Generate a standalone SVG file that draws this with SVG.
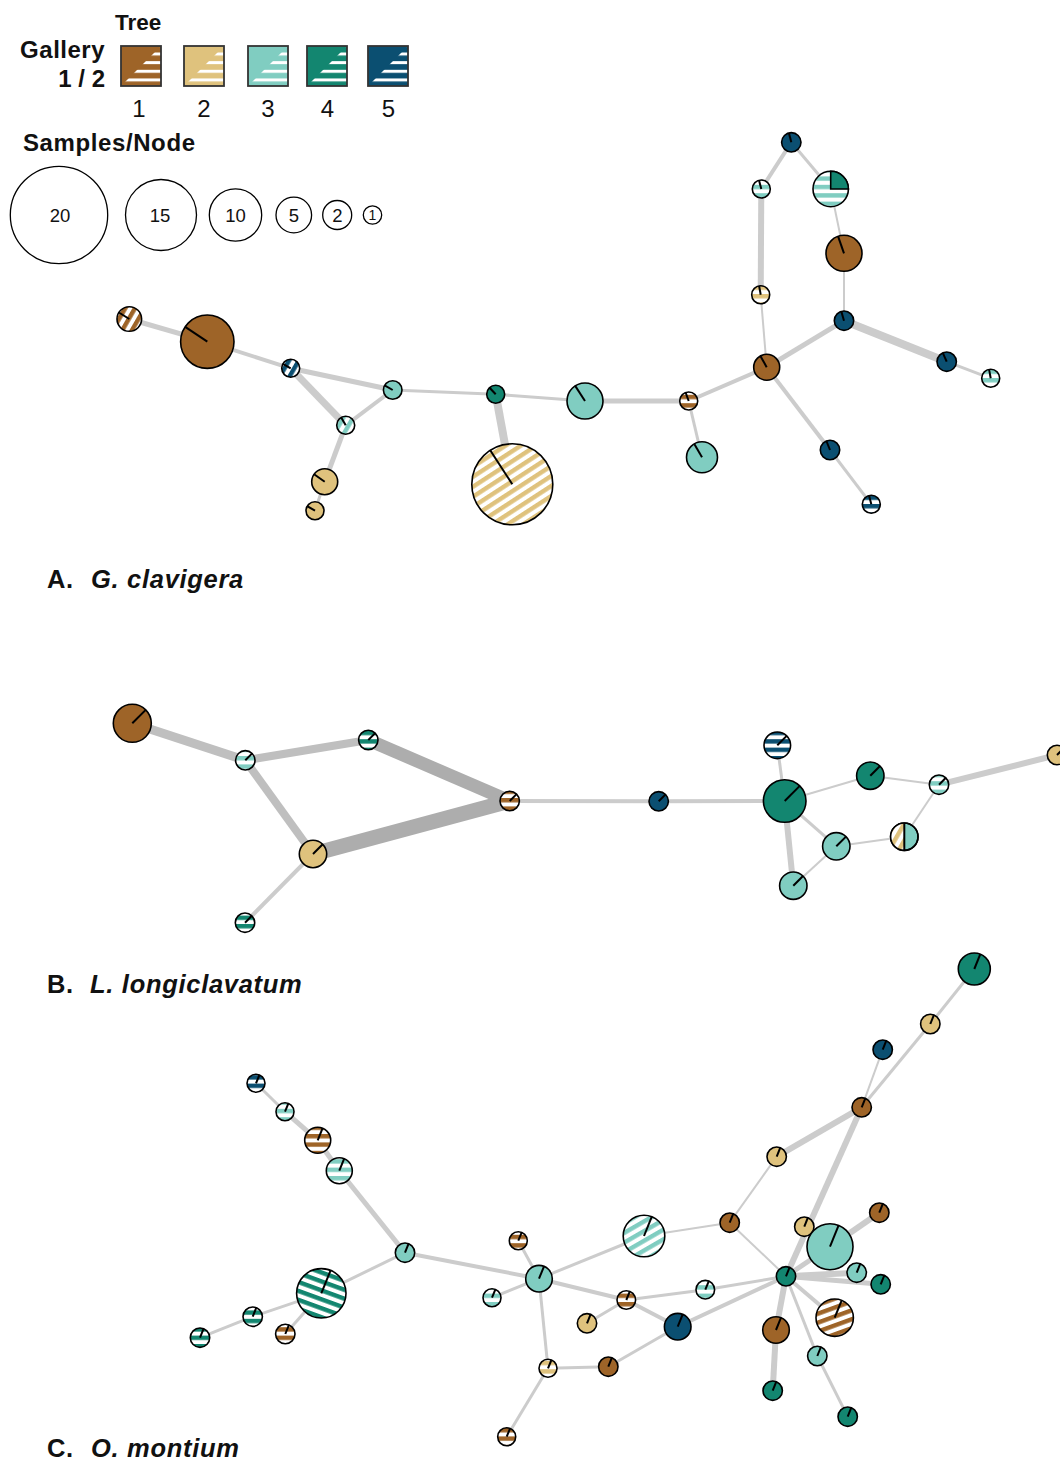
<svg xmlns="http://www.w3.org/2000/svg" width="1060" height="1460" viewBox="0 0 1060 1460">
<style>
.t{font-family:"Liberation Sans",Arial,sans-serif;fill:#111}
.b{font-weight:bold}
.bi{font-weight:bold;font-style:italic}
.pl{font-size:25.5px;letter-spacing:0.7px}
.nd circle,.nd path.w{stroke:#000;stroke-width:1.6}
.hand{stroke:#000;stroke-width:2}
.ring{fill:none;stroke:#000;stroke-width:1.3}
.sw{fill:none;stroke:#333;stroke-width:1.8}
line.e{stroke:#cccccc}
line.e2{stroke:#bfbfbf}
line.e3{stroke:#adadad}
</style>
<defs>
  <!-- gallery-2 stripes: colour bands on white -->
  <pattern id="s1h" patternUnits="userSpaceOnUse" width="10" height="8.4"><rect width="10" height="8.4" fill="#fff"/><rect width="10" height="4.4" fill="#9e6428"/></pattern>
  <pattern id="s2h" patternUnits="userSpaceOnUse" width="10" height="8.4"><rect width="10" height="8.4" fill="#fff"/><rect width="10" height="4.4" fill="#dfc27d"/></pattern>
  <pattern id="s3h" patternUnits="userSpaceOnUse" width="10" height="8.4"><rect width="10" height="8.4" fill="#fff"/><rect width="10" height="4.4" fill="#80cdc1"/></pattern>
  <pattern id="s4h" patternUnits="userSpaceOnUse" width="10" height="8.4"><rect width="10" height="8.4" fill="#fff"/><rect width="10" height="4.4" fill="#138670"/></pattern>
  <pattern id="s5h" patternUnits="userSpaceOnUse" width="10" height="8.4"><rect width="10" height="8.4" fill="#fff"/><rect width="10" height="4.4" fill="#0b4f71"/></pattern>
  <pattern id="s1d" href="#s1h" patternTransform="rotate(-60)"/>
  <pattern id="s2d" href="#s2h" patternTransform="rotate(-60)"/>
  <pattern id="s3d" href="#s3h" patternTransform="rotate(-60)"/>
  <pattern id="s5d" href="#s5h" patternTransform="rotate(-60)"/>
  <pattern id="s2d33" href="#s2h" patternTransform="rotate(-33)"/>
  <pattern id="s3d30" href="#s3h" patternTransform="rotate(-30)"/>
  <pattern id="s4r20" href="#s4h" patternTransform="rotate(20)"/>
  <pattern id="s1r20" href="#s1h" patternTransform="rotate(-20)"/>
  <!-- legend swatch stripes -->
  <pattern id="lgs" patternUnits="userSpaceOnUse" x="0" y="52.5" width="10" height="8.65"><rect width="10" height="3" fill="#fff"/></pattern>
</defs>

<!-- legend -->
<g id="legend">
  <text class="t b" x="115" y="30" font-size="22.5">Tree</text>
  <text class="t b" x="105" y="58" font-size="24" letter-spacing="0.5" text-anchor="end">Gallery</text>
  <text class="t b" x="105" y="87" font-size="24" text-anchor="end">1 / 2</text>
  <rect x="121" y="46" width="40" height="40" fill="#9e6428"/><polygon points="161,46 161,86 121,86" fill="url(#lgs)"/><rect class="sw" x="121" y="46" width="40" height="40"/>
  <rect x="184" y="46" width="40" height="40" fill="#dfc27d"/><polygon points="224,46 224,86 184,86" fill="url(#lgs)"/><rect class="sw" x="184" y="46" width="40" height="40"/>
  <rect x="248" y="46" width="40" height="40" fill="#80cdc1"/><polygon points="288,46 288,86 248,86" fill="url(#lgs)"/><rect class="sw" x="248" y="46" width="40" height="40"/>
  <rect x="307" y="46" width="40" height="40" fill="#138670"/><polygon points="347,46 347,86 307,86" fill="url(#lgs)"/><rect class="sw" x="307" y="46" width="40" height="40"/>
  <rect x="368" y="46" width="40" height="40" fill="#0b4f71"/><polygon points="408,46 408,86 368,86" fill="url(#lgs)"/><rect class="sw" x="368" y="46" width="40" height="40"/>
  <g class="t" font-size="24" text-anchor="middle">
    <text x="139" y="116.5">1</text><text x="204" y="116.5">2</text><text x="268" y="116.5">3</text><text x="327.5" y="116.5">4</text><text x="388.5" y="116.5">5</text>
  </g>
  <text class="t b" x="23" y="151" font-size="24" letter-spacing="0.6">Samples/Node</text>
  <circle class="ring" cx="59" cy="215" r="48.7"/>
  <circle class="ring" cx="161" cy="215" r="35.5"/>
  <circle class="ring" cx="235.5" cy="215" r="26.2"/>
  <circle class="ring" cx="293.8" cy="215" r="17.8"/>
  <circle class="ring" cx="337.2" cy="215" r="14.5"/>
  <circle class="ring" cx="372.5" cy="215" r="9.2"/>
  <g class="t" font-size="18.5" text-anchor="middle">
    <text x="60" y="221.5">20</text><text x="160" y="221.5">15</text><text x="235.5" y="221.5">10</text><text x="294" y="221.5">5</text><text x="337.5" y="221.5">2</text>
  </g>
  <text class="t" x="372.5" y="220" font-size="14" text-anchor="middle">1</text>
</g>

<!-- panel labels -->
<text class="t b pl" x="47" y="588">A.<tspan class="bi" x="91">G. clavigera</tspan></text>
<text class="t b pl" x="47" y="992.5">B.<tspan class="bi" x="90">L. longiclavatum</tspan></text>
<text class="t b pl" x="47" y="1457">C.<tspan class="bi" x="91">O. montium</tspan></text>

<!-- connectors -->
<g id="edges">
  <!-- A -->
  <line class="e" x1="129.3" y1="319" x2="207.3" y2="341.7" stroke-width="5"/>
  <line class="e" x1="207.3" y1="341.7" x2="290.7" y2="368.3" stroke-width="4"/>
  <line class="e" x1="290.7" y1="368.3" x2="392.7" y2="390" stroke-width="5"/>
  <line class="e" x1="290.7" y1="368.3" x2="345.7" y2="425.3" stroke-width="7"/>
  <line class="e" x1="345.7" y1="425.3" x2="392.7" y2="390" stroke-width="4"/>
  <line class="e" x1="345.7" y1="425.3" x2="324.7" y2="481.7" stroke-width="5"/>
  <line class="e" x1="324.7" y1="481.7" x2="315" y2="510.7" stroke-width="3"/>
  <line class="e" x1="392.7" y1="390" x2="495.7" y2="394.3" stroke-width="3"/>
  <line class="e" x1="495.7" y1="394.3" x2="512.3" y2="484.3" stroke-width="8"/>
  <line class="e" x1="495.7" y1="394.3" x2="585" y2="401" stroke-width="3"/>
  <line class="e" x1="585" y1="401" x2="688.7" y2="401" stroke-width="5"/>
  <line class="e" x1="688.7" y1="401" x2="702" y2="457.3" stroke-width="3"/>
  <line class="e" x1="688.7" y1="401" x2="766.7" y2="367.3" stroke-width="4"/>
  <line class="e" x1="766.7" y1="367.3" x2="760.7" y2="294.7" stroke-width="2"/>
  <line class="e" x1="760.7" y1="294.7" x2="761.3" y2="189" stroke-width="6"/>
  <line class="e" x1="761.3" y1="189" x2="791.3" y2="142.3" stroke-width="4"/>
  <line class="e" x1="791.3" y1="142.3" x2="830.7" y2="189" stroke-width="3"/>
  <line class="e" x1="830.7" y1="189" x2="844" y2="253.3" stroke-width="2"/>
  <line class="e" x1="844" y1="253.3" x2="844" y2="320.7" stroke-width="2"/>
  <line class="e" x1="844" y1="320.7" x2="766.7" y2="367.3" stroke-width="5"/>
  <line class="e" x1="844" y1="320.7" x2="946.7" y2="361.7" stroke-width="8"/>
  <line class="e" x1="946.7" y1="361.7" x2="990.7" y2="378.3" stroke-width="3"/>
  <line class="e" x1="766.7" y1="367.3" x2="830" y2="450" stroke-width="4"/>
  <line class="e" x1="830" y1="450" x2="871.3" y2="504.3" stroke-width="3"/>
  <!-- B -->
  <line class="e2" x1="132.3" y1="723.3" x2="245.3" y2="760.3" stroke-width="9"/>
  <line class="e2" x1="245.3" y1="760.3" x2="368.3" y2="740" stroke-width="8"/>
  <line class="e3" x1="368.3" y1="740" x2="509.7" y2="801" stroke-width="13"/>
  <line class="e2" x1="245.3" y1="760.3" x2="313" y2="854" stroke-width="8"/>
  <line class="e3" x1="313" y1="854" x2="509.7" y2="801" stroke-width="15"/>
  <line class="e" x1="313" y1="854" x2="245" y2="922.7" stroke-width="4"/>
  <line class="e" x1="509.7" y1="801" x2="658.7" y2="801.3" stroke-width="4"/>
  <line class="e" x1="658.7" y1="801.3" x2="784.7" y2="801" stroke-width="4"/>
  <line class="e" x1="777.3" y1="745.3" x2="784.7" y2="801" stroke-width="3"/>
  <line class="e" x1="784.7" y1="801" x2="870.3" y2="775.7" stroke-width="2"/>
  <line class="e" x1="870.3" y1="775.7" x2="939" y2="784.7" stroke-width="2"/>
  <line class="e" x1="939" y1="784.7" x2="1057" y2="755" stroke-width="6"/>
  <line class="e" x1="939" y1="784.7" x2="904.3" y2="836.7" stroke-width="2"/>
  <line class="e" x1="904.3" y1="836.7" x2="836.3" y2="846.3" stroke-width="2"/>
  <line class="e" x1="836.3" y1="846.3" x2="784.7" y2="801" stroke-width="3"/>
  <line class="e" x1="784.7" y1="801" x2="793.3" y2="885.7" stroke-width="6"/>
  <line class="e" x1="793.3" y1="885.7" x2="836.3" y2="846.3" stroke-width="2"/>
  <!-- C -->
  <line class="e" x1="256" y1="1083.3" x2="285" y2="1111.7" stroke-width="3"/>
  <line class="e" x1="285" y1="1111.7" x2="317.7" y2="1140.3" stroke-width="5"/>
  <line class="e" x1="317.7" y1="1140.3" x2="339.3" y2="1170.7" stroke-width="5"/>
  <line class="e" x1="339.3" y1="1170.7" x2="405" y2="1252.7" stroke-width="5"/>
  <line class="e" x1="405" y1="1252.7" x2="321.3" y2="1293.3" stroke-width="3"/>
  <line class="e" x1="321.3" y1="1293.3" x2="252.7" y2="1316.7" stroke-width="3"/>
  <line class="e" x1="252.7" y1="1316.7" x2="200" y2="1337.7" stroke-width="3"/>
  <line class="e" x1="321.3" y1="1293.3" x2="285.3" y2="1334" stroke-width="3"/>
  <line class="e" x1="405" y1="1252.7" x2="539" y2="1278.7" stroke-width="4"/>
  <line class="e" x1="518.3" y1="1240.7" x2="539" y2="1278.7" stroke-width="3"/>
  <line class="e" x1="492" y1="1297.7" x2="539" y2="1278.7" stroke-width="3"/>
  <line class="e" x1="539" y1="1278.7" x2="644" y2="1236" stroke-width="3"/>
  <line class="e" x1="644" y1="1236" x2="729.7" y2="1222.7" stroke-width="2"/>
  <line class="e" x1="539" y1="1278.7" x2="626.3" y2="1300" stroke-width="4"/>
  <line class="e" x1="587" y1="1323.3" x2="626.3" y2="1300" stroke-width="3"/>
  <line class="e" x1="626.3" y1="1300" x2="705.3" y2="1289.7" stroke-width="3"/>
  <line class="e" x1="626.3" y1="1300" x2="677.7" y2="1326.7" stroke-width="4"/>
  <line class="e" x1="539" y1="1278.7" x2="548" y2="1368.3" stroke-width="3"/>
  <line class="e" x1="548" y1="1368.3" x2="608.3" y2="1366.7" stroke-width="3"/>
  <line class="e" x1="608.3" y1="1366.7" x2="677.7" y2="1326.7" stroke-width="3"/>
  <line class="e" x1="548" y1="1368.3" x2="506.7" y2="1436.7" stroke-width="3"/>
  <line class="e" x1="705.3" y1="1289.7" x2="786" y2="1276.3" stroke-width="3"/>
  <line class="e" x1="677.7" y1="1326.7" x2="786" y2="1276.3" stroke-width="4"/>
  <line class="e" x1="729.7" y1="1222.7" x2="786" y2="1276.3" stroke-width="2"/>
  <line class="e" x1="729.7" y1="1222.7" x2="776.7" y2="1156.7" stroke-width="2"/>
  <line class="e" x1="776.7" y1="1156.7" x2="861.7" y2="1107.3" stroke-width="6"/>
  <line class="e" x1="861.7" y1="1107.3" x2="786" y2="1276.3" stroke-width="6"/>
  <line class="e" x1="861.7" y1="1107.3" x2="882.7" y2="1049.7" stroke-width="2"/>
  <line class="e" x1="861.7" y1="1107.3" x2="930.3" y2="1024" stroke-width="3"/>
  <line class="e" x1="930.3" y1="1024" x2="974.3" y2="969" stroke-width="3"/>
  <line class="e" x1="786" y1="1276.3" x2="830" y2="1246.7" stroke-width="5"/>
  <line class="e" x1="830" y1="1246.7" x2="879.3" y2="1212.7" stroke-width="6"/>
  <line class="e" x1="786" y1="1276.3" x2="856.7" y2="1272.7" stroke-width="6"/>
  <line class="e" x1="786" y1="1276.3" x2="880.7" y2="1284.3" stroke-width="5"/>
  <line class="e" x1="786" y1="1276.3" x2="834.7" y2="1317.7" stroke-width="4"/>
  <line class="e" x1="786" y1="1276.3" x2="776" y2="1330" stroke-width="6"/>
  <line class="e" x1="776" y1="1330" x2="772.7" y2="1390.7" stroke-width="6"/>
  <line class="e" x1="786" y1="1276.3" x2="817.3" y2="1356" stroke-width="3"/>
  <line class="e" x1="817.3" y1="1356" x2="847.7" y2="1416.7" stroke-width="3"/>
</g>

<!-- panel A nodes -->
<g id="a1" class="nd"><circle cx="129.3" cy="319" r="12.3" fill="url(#s1d)"/><line class="hand" x1="129.3" y1="319" x2="118.9" y2="312.5"/></g>
<g id="a2" class="nd"><circle cx="207.3" cy="341.7" r="26.7" fill="#9e6428"/><line class="hand" x1="207.3" y1="341.7" x2="185.2" y2="326.8"/></g>
<g id="a3" class="nd"><circle cx="290.7" cy="368.3" r="9" fill="url(#s5d)"/><line class="hand" x1="290.7" y1="368.3" x2="282.9" y2="363.8"/></g>
<g id="a4" class="nd"><circle cx="392.7" cy="390" r="9.3" fill="#80cdc1"/><line class="hand" x1="392.7" y1="390" x2="384.6" y2="385.4"/></g>
<g id="a5" class="nd"><circle cx="345.7" cy="425.3" r="9" fill="url(#s3d)"/><line class="hand" x1="345.7" y1="425.3" x2="341.2" y2="417.5"/></g>
<g id="a6" class="nd"><circle cx="324.7" cy="481.7" r="13" fill="#dfc27d"/><line class="hand" x1="324.7" y1="481.7" x2="314.1" y2="474.2"/></g>
<g id="a7" class="nd"><circle cx="315" cy="510.7" r="9" fill="#dfc27d"/><line class="hand" x1="315" y1="510.7" x2="307.2" y2="506.2"/></g>
<g id="a8" class="nd"><circle cx="495.7" cy="394.3" r="9" fill="#138670"/><line class="hand" x1="495.7" y1="394.3" x2="489.6" y2="387.7"/></g>
<g id="a9" class="nd"><circle cx="512.3" cy="484.3" r="40.5" fill="url(#s2d33)"/><line class="hand" x1="512.3" y1="484.3" x2="490.2" y2="450.3"/></g>
<g id="a10" class="nd"><circle cx="585" cy="401" r="18" fill="#80cdc1"/><line class="hand" x1="585" y1="401" x2="575.2" y2="385.9"/></g>
<g id="a11" class="nd"><circle cx="688.7" cy="401" r="9" fill="url(#s1h)"/><line class="hand" x1="688.7" y1="401" x2="685.6" y2="392.5"/></g>
<g id="a12" class="nd"><circle cx="702" cy="457.3" r="15.5" fill="#80cdc1"/><line class="hand" x1="702" y1="457.3" x2="694.3" y2="443.9"/></g>
<g id="a13" class="nd"><circle cx="791.3" cy="142.3" r="9.7" fill="#0b4f71"/><line class="hand" x1="791.3" y1="142.3" x2="788.9" y2="132.9"/></g>
<g id="a14" class="nd"><circle cx="761.3" cy="189" r="9" fill="url(#s3h)"/><line class="hand" x1="761.3" y1="189" x2="759" y2="180.3"/></g>
<g id="a15" class="nd"><circle cx="830.7" cy="189" r="17.7" fill="url(#s3h)"/><path class="w" d="M830.7,189 L830.7,171.3 A17.7,17.7 0 0 1 848.4,189 Z" fill="#138670"/></g>
<g id="a16" class="nd"><circle cx="844" cy="253.3" r="18" fill="#9e6428"/><line class="hand" x1="844" y1="253.3" x2="838.1" y2="236.3"/></g>
<g id="a17" class="nd"><circle cx="760.7" cy="294.7" r="9" fill="url(#s2h)"/><line class="hand" x1="760.7" y1="294.7" x2="759.1" y2="285.8"/></g>
<g id="a18" class="nd"><circle cx="844" cy="320.7" r="9.7" fill="#0b4f71"/><line class="hand" x1="844" y1="320.7" x2="841.3" y2="311.4"/></g>
<g id="a19" class="nd"><circle cx="766.7" cy="367.3" r="13" fill="#9e6428"/><line class="hand" x1="766.7" y1="367.3" x2="760.4" y2="355.9"/></g>
<g id="a20" class="nd"><circle cx="946.7" cy="361.7" r="9.7" fill="#0b4f71"/><line class="hand" x1="946.7" y1="361.7" x2="942.8" y2="352.8"/></g>
<g id="a21" class="nd"><circle cx="990.7" cy="378.3" r="9" fill="url(#s3h)"/><line class="hand" x1="990.7" y1="378.3" x2="989.1" y2="369.4"/></g>
<g id="a22" class="nd"><circle cx="830" cy="450" r="9.7" fill="#0b4f71"/><line class="hand" x1="830" y1="450" x2="826.4" y2="441"/></g>
<g id="a23" class="nd"><circle cx="871.3" cy="504.3" r="9" fill="url(#s5h)"/><line class="hand" x1="871.3" y1="504.3" x2="869" y2="495.6"/></g>

<!-- panel B nodes -->
<g id="b1" class="nd"><circle cx="132.3" cy="723.3" r="19" fill="#9e6428"/><line class="hand" x1="132.3" y1="723.3" x2="145.7" y2="709.9"/></g>
<g id="b2" class="nd"><circle cx="245.3" cy="760.3" r="9.7" fill="url(#s3h)"/><line class="hand" x1="245.3" y1="760.3" x2="252.2" y2="753.4"/></g>
<g id="b3" class="nd"><circle cx="368.3" cy="740" r="9.7" fill="url(#s4h)"/><line class="hand" x1="368.3" y1="740" x2="375.2" y2="733.1"/></g>
<g id="b4" class="nd"><circle cx="509.7" cy="801" r="9.7" fill="url(#s1h)"/><line class="hand" x1="509.7" y1="801" x2="516.6" y2="794.1"/></g>
<g id="b5" class="nd"><circle cx="313" cy="854" r="13.7" fill="#dfc27d"/><line class="hand" x1="313" y1="854" x2="322.7" y2="844.3"/></g>
<g id="b6" class="nd"><circle cx="245" cy="922.7" r="9.7" fill="url(#s4h)"/><line class="hand" x1="245" y1="922.7" x2="251.9" y2="915.8"/></g>
<g id="b7" class="nd"><circle cx="658.7" cy="801.3" r="9.7" fill="#0b4f71"/><line class="hand" x1="658.7" y1="801.3" x2="665.6" y2="794.4"/></g>
<g id="b8" class="nd"><circle cx="777.3" cy="745.3" r="13.3" fill="url(#s5h)"/><line class="hand" x1="777.3" y1="745.3" x2="786.7" y2="735.9"/></g>
<g id="b9" class="nd"><circle cx="784.7" cy="801" r="21.3" fill="#138670"/><line class="hand" x1="784.7" y1="801" x2="799.8" y2="785.9"/></g>
<g id="b10" class="nd"><circle cx="870.3" cy="775.7" r="13.7" fill="#138670"/><line class="hand" x1="870.3" y1="775.7" x2="880" y2="766"/></g>
<g id="b11" class="nd"><circle cx="939" cy="784.7" r="9.7" fill="url(#s3h)"/><line class="hand" x1="939" y1="784.7" x2="945.9" y2="777.8"/></g>
<g id="b12" class="nd"><circle cx="1057" cy="755" r="9.7" fill="#dfc27d"/><line class="hand" x1="1057" y1="755" x2="1063.9" y2="748.1"/></g>
<g id="b13" class="nd"><circle cx="836.3" cy="846.3" r="13.7" fill="#80cdc1"/><line class="hand" x1="836.3" y1="846.3" x2="846" y2="836.6"/></g>
<g id="b14" class="nd"><circle cx="904.3" cy="836.7" r="13.7" fill="#80cdc1"/><path d="M904.3,823 A13.7,13.7 0 0 0 904.3,850.4 Z" fill="url(#s2d)"/><circle cx="904.3" cy="836.7" r="13.7" fill="none"/><line class="hand" x1="904.3" y1="823" x2="904.3" y2="850.4"/></g>
<g id="b15" class="nd"><circle cx="793.3" cy="885.7" r="13.7" fill="#80cdc1"/><line class="hand" x1="793.3" y1="885.7" x2="803" y2="876"/></g>

<!-- panel C nodes -->
<g id="c1" class="nd"><circle cx="256" cy="1083.3" r="9" fill="url(#s5h)"/><line class="hand" x1="256" y1="1083.3" x2="259.4" y2="1075"/></g>
<g id="c2" class="nd"><circle cx="285" cy="1111.7" r="9" fill="url(#s3h)"/><line class="hand" x1="285" y1="1111.7" x2="288.4" y2="1103.4"/></g>
<g id="c3" class="nd"><circle cx="317.7" cy="1140.3" r="13" fill="url(#s1h)"/><line class="hand" x1="317.7" y1="1140.3" x2="322.6" y2="1128.2"/></g>
<g id="c4" class="nd"><circle cx="339.3" cy="1170.7" r="13" fill="url(#s3h)"/><line class="hand" x1="339.3" y1="1170.7" x2="344.2" y2="1158.6"/></g>
<g id="c5" class="nd"><circle cx="405" cy="1252.7" r="9.7" fill="#80cdc1"/><line class="hand" x1="405" y1="1252.7" x2="408.6" y2="1243.7"/></g>
<g id="c6" class="nd"><circle cx="321.3" cy="1293.3" r="24.7" fill="url(#s4r20)"/><line class="hand" x1="321.3" y1="1293.3" x2="330.6" y2="1270.4"/></g>
<g id="c7" class="nd"><circle cx="252.7" cy="1316.7" r="9.7" fill="url(#s4h)"/><line class="hand" x1="252.7" y1="1316.7" x2="256.3" y2="1307.7"/></g>
<g id="c8" class="nd"><circle cx="200" cy="1337.7" r="9.7" fill="url(#s4h)"/><line class="hand" x1="200" y1="1337.7" x2="203.6" y2="1328.7"/></g>
<g id="c9" class="nd"><circle cx="285.3" cy="1334" r="9.7" fill="url(#s1h)"/><line class="hand" x1="285.3" y1="1334" x2="288.9" y2="1325"/></g>
<g id="c10" class="nd"><circle cx="518.3" cy="1240.7" r="9" fill="url(#s1h)"/><line class="hand" x1="518.3" y1="1240.7" x2="521.7" y2="1232.4"/></g>
<g id="c11" class="nd"><circle cx="539" cy="1278.7" r="13.3" fill="#80cdc1"/><line class="hand" x1="539" y1="1278.7" x2="544" y2="1266.4"/></g>
<g id="c12" class="nd"><circle cx="492" cy="1297.7" r="9" fill="url(#s3h)"/><line class="hand" x1="492" y1="1297.7" x2="495.4" y2="1289.4"/></g>
<g id="c13" class="nd"><circle cx="644" cy="1236" r="20.8" fill="url(#s3d30)"/><line class="hand" x1="644" y1="1236" x2="651.8" y2="1216.7"/></g>
<g id="c14" class="nd"><circle cx="729.7" cy="1222.7" r="9.7" fill="#9e6428"/><line class="hand" x1="729.7" y1="1222.7" x2="733.3" y2="1213.7"/></g>
<g id="c15" class="nd"><circle cx="626.3" cy="1300" r="9.3" fill="url(#s1h)"/><line class="hand" x1="626.3" y1="1300" x2="629.8" y2="1291.4"/></g>
<g id="c16" class="nd"><circle cx="705.3" cy="1289.7" r="9.3" fill="url(#s3h)"/><line class="hand" x1="705.3" y1="1289.7" x2="708.8" y2="1281.1"/></g>
<g id="c17" class="nd"><circle cx="587" cy="1323.3" r="9.7" fill="#dfc27d"/><line class="hand" x1="587" y1="1323.3" x2="590.6" y2="1314.3"/></g>
<g id="c18" class="nd"><circle cx="677.7" cy="1326.7" r="13.3" fill="#0b4f71"/><line class="hand" x1="677.7" y1="1326.7" x2="682.7" y2="1314.4"/></g>
<g id="c19" class="nd"><circle cx="548" cy="1368.3" r="9" fill="url(#s2h)"/><line class="hand" x1="548" y1="1368.3" x2="551.4" y2="1360"/></g>
<g id="c20" class="nd"><circle cx="608.3" cy="1366.7" r="9.7" fill="#9e6428"/><line class="hand" x1="608.3" y1="1366.7" x2="611.9" y2="1357.7"/></g>
<g id="c21" class="nd"><circle cx="506.7" cy="1436.7" r="9" fill="url(#s1h)"/><line class="hand" x1="506.7" y1="1436.7" x2="510.1" y2="1428.4"/></g>
<g id="c22" class="nd"><circle cx="974.3" cy="969" r="16" fill="#138670"/><line class="hand" x1="974.3" y1="969" x2="980.3" y2="954.2"/></g>
<g id="c23" class="nd"><circle cx="930.3" cy="1024" r="9.7" fill="#dfc27d"/><line class="hand" x1="930.3" y1="1024" x2="933.9" y2="1015"/></g>
<g id="c24" class="nd"><circle cx="882.7" cy="1049.7" r="9.7" fill="#0b4f71"/><line class="hand" x1="882.7" y1="1049.7" x2="886.3" y2="1040.7"/></g>
<g id="c25" class="nd"><circle cx="861.7" cy="1107.3" r="9.7" fill="#9e6428"/><line class="hand" x1="861.7" y1="1107.3" x2="865.3" y2="1098.3"/></g>
<g id="c26" class="nd"><circle cx="776.7" cy="1156.7" r="9.7" fill="#dfc27d"/><line class="hand" x1="776.7" y1="1156.7" x2="780.3" y2="1147.7"/></g>
<g id="c27" class="nd"><circle cx="879.3" cy="1212.7" r="9.7" fill="#9e6428"/><line class="hand" x1="879.3" y1="1212.7" x2="882.9" y2="1203.7"/></g>
<g id="c28" class="nd"><circle cx="804.3" cy="1226.7" r="9.7" fill="#dfc27d"/><line class="hand" x1="804.3" y1="1226.7" x2="807.9" y2="1217.7"/></g>
<g id="c30" class="nd"><circle cx="830" cy="1246.7" r="23" fill="#80cdc1"/><line class="hand" x1="830" y1="1246.7" x2="838.6" y2="1225.4"/></g>
<g id="c29" class="nd"><circle cx="786" cy="1276.3" r="9.7" fill="#138670"/><line class="hand" x1="786" y1="1276.3" x2="789.6" y2="1267.3"/></g>
<g id="c31" class="nd"><circle cx="856.7" cy="1272.7" r="9.7" fill="#80cdc1"/><line class="hand" x1="856.7" y1="1272.7" x2="860.3" y2="1263.7"/></g>
<g id="c32" class="nd"><circle cx="880.7" cy="1284.3" r="9.7" fill="#138670"/><line class="hand" x1="880.7" y1="1284.3" x2="884.3" y2="1275.3"/></g>
<g id="c33" class="nd"><circle cx="834.7" cy="1317.7" r="18.7" fill="url(#s1r20)"/><line class="hand" x1="834.7" y1="1317.7" x2="841.7" y2="1300.4"/></g>
<g id="c34" class="nd"><circle cx="776" cy="1330" r="13.3" fill="#9e6428"/><line class="hand" x1="776" y1="1330" x2="781" y2="1317.7"/></g>
<g id="c35" class="nd"><circle cx="817.3" cy="1356" r="9.7" fill="#80cdc1"/><line class="hand" x1="817.3" y1="1356" x2="820.9" y2="1347"/></g>
<g id="c36" class="nd"><circle cx="772.7" cy="1390.7" r="9.7" fill="#138670"/><line class="hand" x1="772.7" y1="1390.7" x2="776.3" y2="1381.7"/></g>
<g id="c37" class="nd"><circle cx="847.7" cy="1416.7" r="9.7" fill="#138670"/><line class="hand" x1="847.7" y1="1416.7" x2="851.3" y2="1407.7"/></g>
</svg>
